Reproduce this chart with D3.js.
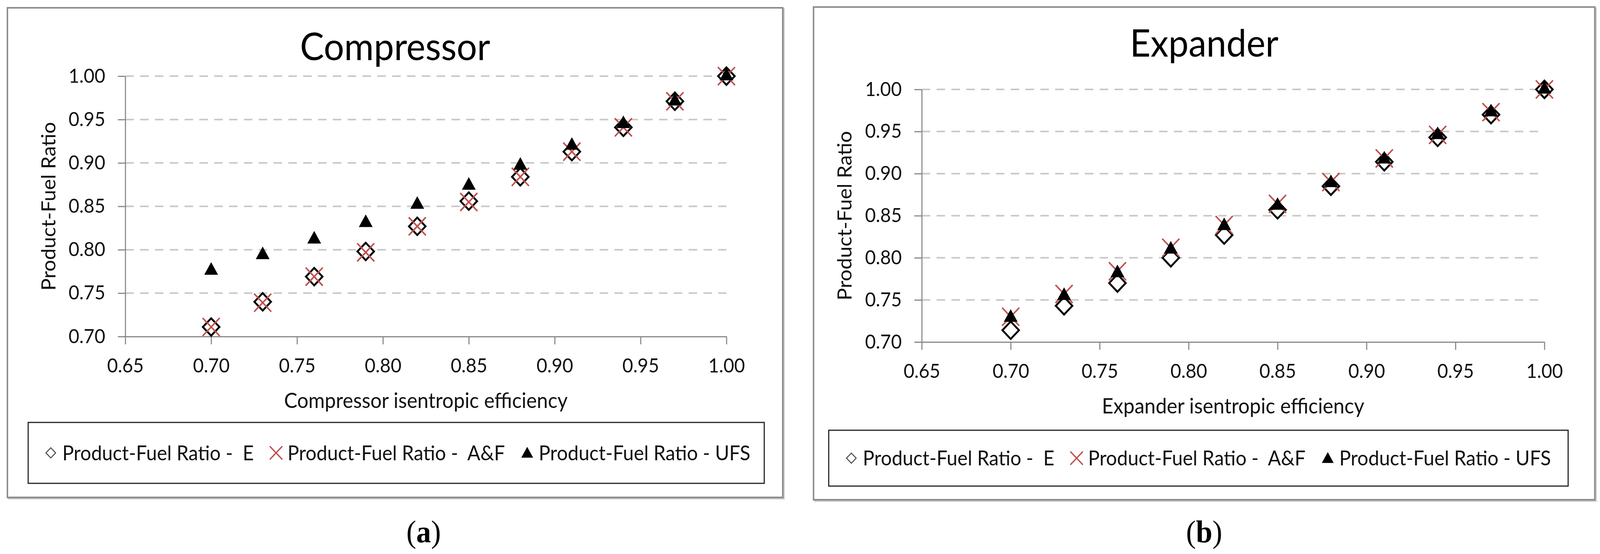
<!DOCTYPE html>
<html>
<head>
<meta charset="utf-8">
<script src="https://cdn.jsdelivr.net/npm/d3@7"></script>
<style>
  html, body { margin: 0; padding: 0; background: #fff; overflow: hidden; }
  svg { display: block; }
  text { font-family: Lato, "Open Sans", sans-serif; }
</style>
</head>
<body>
<script>
// two side-by-side scatter charts: compressor (a) and expander (b)
var W = 4317, H = 1419;

// x values (isentropic efficiency)
var efficiency = [0.70, 0.73, 0.76, 0.79, 0.82, 0.85, 0.88, 0.91, 0.94, 0.97, 1.00];

// compressor product-fuel ratios
var compE   = [0.711, 0.740, 0.769, 0.798, 0.827, 0.856, 0.884, 0.913, 0.941, 0.971, 1.000];
var compAF  = [0.711, 0.739, 0.769, 0.797, 0.827, 0.855, 0.884, 0.913, 0.941, 0.971, 1.000];
var compUFS = [0.776, 0.794, 0.812, 0.831, 0.852, 0.874, 0.897, 0.920, 0.945, 0.971, 1.000];

// expander product-fuel ratios
var expE   = [0.714, 0.743, 0.770, 0.800, 0.827, 0.857, 0.885, 0.914, 0.943, 0.970, 1.000];
var expAF  = [0.730, 0.757, 0.784, 0.812, 0.839, 0.864, 0.890, 0.918, 0.946, 0.973, 1.000];
var expUFS = [0.729, 0.755, 0.782, 0.810, 0.838, 0.862, 0.889, 0.917, 0.946, 0.973, 1.000];

var xTicks = [0.65, 0.70, 0.75, 0.80, 0.85, 0.90, 0.95, 1.00];
var yTicks = [0.70, 0.75, 0.80, 0.85, 0.90, 0.95, 1.00];
var seriesNames = ["Product-Fuel Ratio -  E", "Product-Fuel Ratio -  A&F", "Product-Fuel Ratio - UFS"];

// fit the whole drawing into the window whatever its real size
var svg = d3.select("body").append("svg")
    .attr("viewBox", "0 0 " + W + " " + H)
    .attr("preserveAspectRatio", "none")
    .style("width", "100vw").style("height", "100vh");

var panels = [
  { box: [20, 20, 2092, 1254], plot: [338, 1960, 195, 862],
    title: "Compressor", titleY: 154, titleW: 513,
    xLabel: "Compressor isentropic efficiency", xLabelY: 1045, xLabelW: 765,
    yLabelX: 131, yLabelW: 432, legend: [76, 1082, 1986, 156], caption: "a", captionX: 1143,
    e: compE, af: compAF, ufs: compUFS },
  { box: [2195, 18, 2108, 1262], plot: [2487, 4167, 229, 876],
    title: "Expander", titleY: 145, titleW: 401,
    xLabel: "Expander isentropic efficiency", xLabelY: 1059, xLabelW: 708,
    yLabelX: 2279, yLabelW: 434, legend: [2236, 1102, 1995, 143], caption: "b", captionX: 3249,
    e: expE, af: expAF, ufs: expUFS }
];

// scale a text's font so it spans roughly the width seen in the picture
function fitWidth(sel, base, target) {
  sel.attr("font-size", base);
  var w = sel.node().getComputedTextLength();
  sel.attr("font-size", base * target / w);
  return base * target / w;
}

var fmt = d3.format(".2f");
var diamond = d3.symbol().type(d3.symbolSquare);
var cross = d3.symbol().type(d3.symbolX);
var tri = d3.symbol().type(d3.symbolTriangle);

panels.forEach(function(p) {
  var g = svg.append("g");

  // chart frame with a faint shadow
  g.append("rect")
    .attr("x", p.box[0] + 3).attr("y", p.box[1] + 3)
    .attr("width", p.box[2]).attr("height", p.box[3])
    .attr("fill", "none").attr("stroke", "#c4c4c4").attr("stroke-width", 4);
  g.append("rect")
    .attr("x", p.box[0]).attr("y", p.box[1])
    .attr("width", p.box[2]).attr("height", p.box[3])
    .attr("fill", "#fff").attr("stroke", "#8c8c8c").attr("stroke-width", 4);

  var x = d3.scaleLinear().domain([0.65, 1.00]).range([p.plot[0], p.plot[1]]);
  var y = d3.scaleLinear().domain([0.70, 1.00]).range([p.plot[3], p.plot[2]]);

  // dashed gridlines
  g.selectAll(".grid")
    .data(yTicks.slice(1))
    .enter().append("line")
    .attr("x1", x(0.65)).attr("x2", x(1.00))
    .attr("y1", function(d) { return y(d); })
    .attr("y2", function(d) { return y(d); })
    .attr("stroke", "#c8c8c8").attr("stroke-width", 4)
    .attr("stroke-dasharray", "23,17");

  var xAxis = g.append("g")
    .attr("transform", "translate(0," + y(0.70) + ")")
    .call(d3.axisBottom(x).tickValues(xTicks).tickFormat(fmt)
      .tickSize(20).tickSizeOuter(0).tickPadding(36));
  var yAxis = g.append("g")
    .attr("transform", "translate(" + x(0.65) + ",0)")
    .call(d3.axisLeft(y).tickValues(yTicks).tickFormat(fmt)
      .tickSize(20).tickSizeOuter(0).tickPadding(34));

  // tick label size from the width of "0.65" (~100px)
  var tickFs = fitWidth(xAxis.select(".tick text").style("font-family", "Lato, sans-serif"), 50, 99);
  [xAxis, yAxis].forEach(function(a) {
    a.select(".domain").attr("stroke", "#8a8a8a").attr("stroke-width", 3);
    a.selectAll(".tick line").attr("stroke", "#8a8a8a").attr("stroke-width", 3);
    a.selectAll(".tick text").attr("font-size", tickFs).attr("fill", "#111")
      .style("font-family", "Lato, sans-serif");
  });

  // titles
  var title = g.append("text")
    .attr("x", p.box[0] + p.box[2] / 2).attr("y", p.titleY)
    .attr("text-anchor", "middle").attr("fill", "#000")
    .text(p.title);
  fitWidth(title, 90, p.titleW);

  var xl = g.append("text")
    .attr("x", (p.plot[0] + p.plot[1]) / 2).attr("y", p.xLabelY)
    .attr("text-anchor", "middle").attr("fill", "#111")
    .text(p.xLabel);
  fitWidth(xl, 50, p.xLabelW);

  var yl = g.append("text")
    .attr("transform", "translate(" + p.yLabelX + "," + (p.plot[2] + p.plot[3]) / 2 + ") rotate(-90)")
    .attr("text-anchor", "middle").attr("dy", "0.35em").attr("fill", "#111")
    .text("Product-Fuel Ratio");
  fitWidth(yl, 50, p.yLabelW);

  // markers: E (diamond), A&F (red x), UFS (triangle) on top
  g.selectAll(".e")
    .data(p.e).enter().append("path")
    .attr("d", diamond.size(1000)())
    .attr("transform", function(d, i) {
      return "translate(" + x(efficiency[i]) + "," + y(d) + ") rotate(45)";
    })
    .attr("fill", "#fff").attr("stroke", "#000").attr("stroke-width", 5);

  g.selectAll(".af")
    .data(p.af).enter().append("path")
    .attr("d", cross.size(1400)())
    .attr("transform", function(d, i) {
      return "translate(" + x(efficiency[i]) + "," + y(d) + ")";
    })
    .attr("fill", "none").attr("stroke", "#c0504d").attr("stroke-width", 4);

  g.selectAll(".ufs")
    .data(p.ufs).enter().append("path")
    .attr("d", tri.size(600)())
    .attr("transform", function(d, i) {
      return "translate(" + x(efficiency[i]) + "," + y(d) + ")";
    })
    .attr("fill", "#000");

  // legend
  var L = p.legend;
  g.append("rect")
    .attr("x", L[0]).attr("y", L[1]).attr("width", L[2]).attr("height", L[3])
    .attr("fill", "#fff").attr("stroke", "#222").attr("stroke-width", 3);
  var ly = L[1] + L[3] / 2;
  var cx = L[0] + 61;
  var legFs = 52;
  seriesNames.forEach(function(name, k) {
    if (k == 0) {
      g.append("path").attr("d", diamond.size(340)())
        .attr("transform", "translate(" + cx + "," + ly + ") rotate(45)")
        .attr("fill", "#fff").attr("stroke", "#444").attr("stroke-width", 2.5);
    } else if (k == 1) {
      g.append("path").attr("d", cross.size(750)())
        .attr("transform", "translate(" + cx + "," + ly + ")")
        .attr("fill", "none").attr("stroke", "#c0504d").attr("stroke-width", 3.5);
    } else {
      g.append("path").attr("d", tri.size(440)())
        .attr("transform", "translate(" + cx + "," + (ly + 3) + ")")
        .attr("fill", "#000");
    }
    var t = g.append("text")
      .attr("x", cx + 31).attr("y", ly).attr("dy", "0.36em")
      .attr("fill", "#111")
      .attr("xml:space", "preserve").style("white-space", "pre")
      .text(name);
    if (k == 2) {
      fitWidth(t, legFs, 571);
    } else {
      t.attr("font-size", legFs);
    }
    cx = cx + 31 + t.node().getComputedTextLength() + 60;
  });

  // caption
  var cap = svg.append("text")
    .attr("x", p.captionX).attr("y", 1389)
    .attr("text-anchor", "middle").attr("font-size", 80)
    .style("font-family", "'Liberation Serif', 'DejaVu Serif', serif");
  cap.append("tspan").text("(");
  cap.append("tspan").attr("font-weight", "bold").text(p.caption);
  cap.append("tspan").text(")");
});
</script>
</body>
</html>
